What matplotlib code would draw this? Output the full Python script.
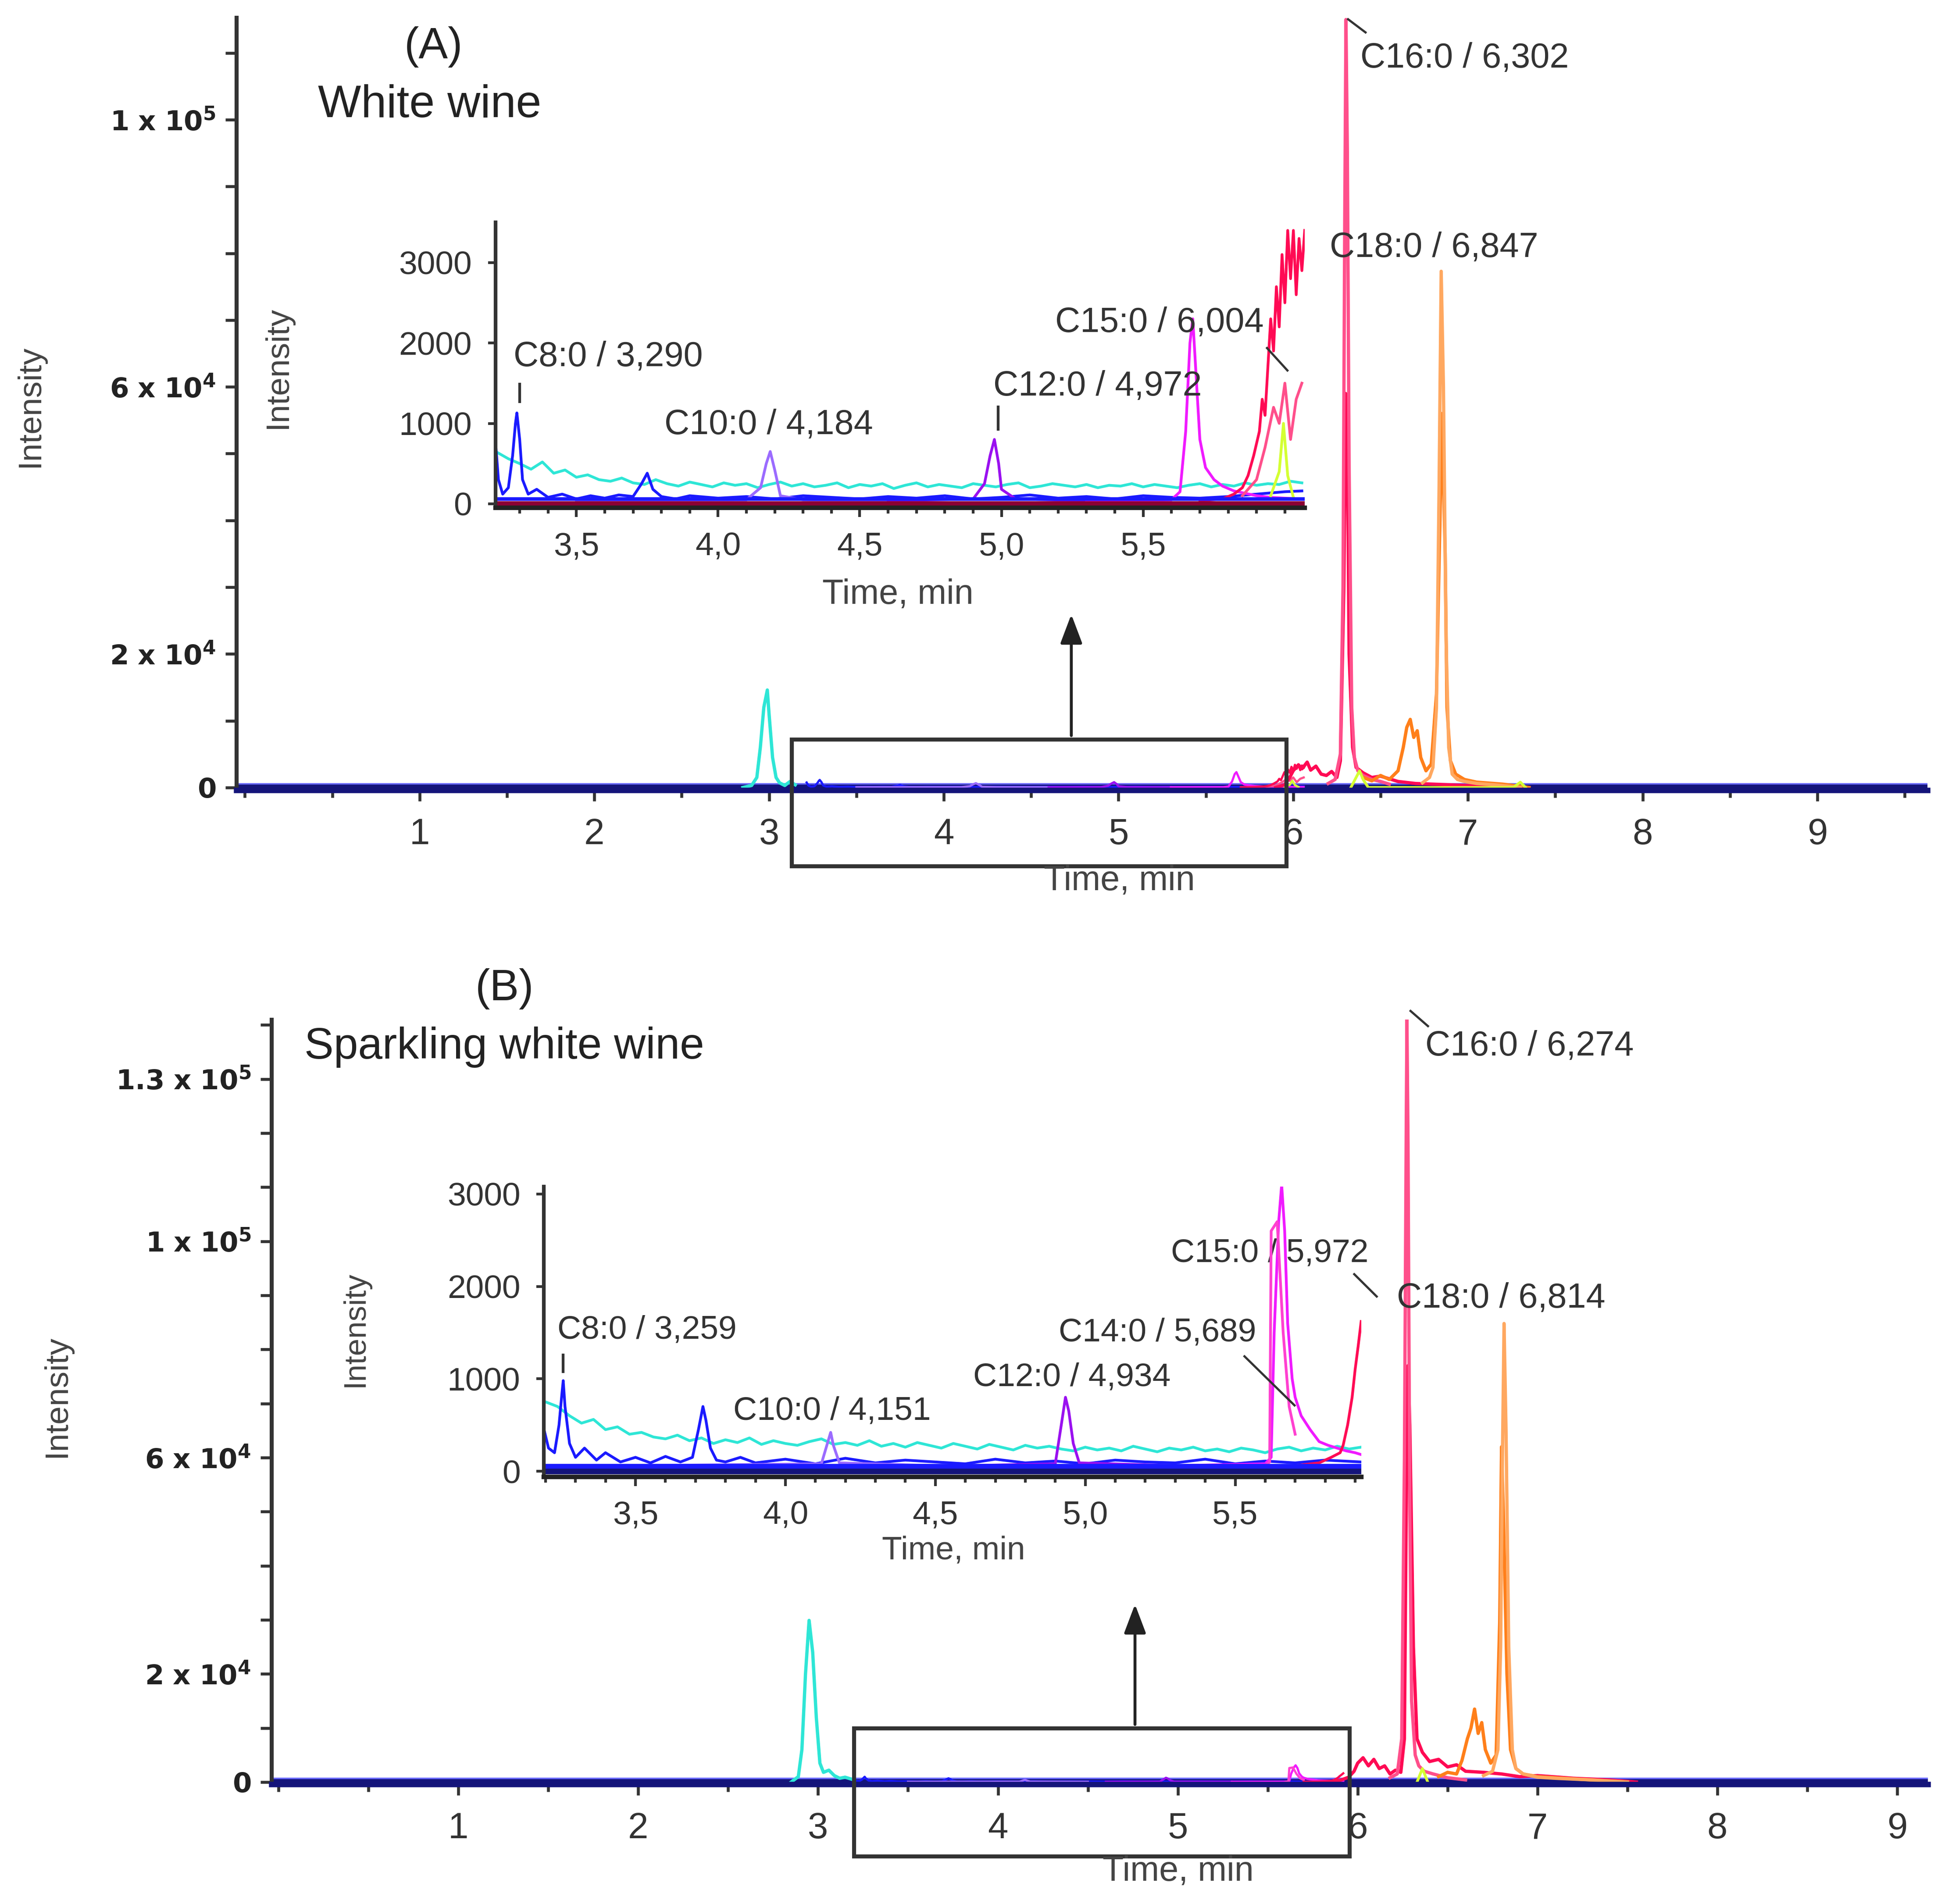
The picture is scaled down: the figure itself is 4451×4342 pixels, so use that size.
import numpy as np
import matplotlib
matplotlib.use('Agg')
import matplotlib.pyplot as plt
from matplotlib.patches import Rectangle
from matplotlib.ticker import MultipleLocator

plt.rcParams['font.family'] = ['Liberation Sans', 'DejaVu Sans']
plt.rcParams['mathtext.fontset'] = 'custom'
plt.rcParams['mathtext.rm'] = 'DejaVu Sans:bold'
plt.rcParams['mathtext.default'] = 'rm'

# colours of the extracted-ion traces
cyan = '#2ee6d6'
blue = '#1a1aff'
navy = '#14147a'
lavender = '#9b6bff'
purple = '#9a10f0'
magenta = '#f01aff'
pinkmag = '#ff40d0'
red = '#ff0a54'
pink = '#ff4f8b'
orange = '#ff7f1a'
lightorange = '#ffa860'
yellow = '#d4ff33'
darkred = '#8b0033'
txt = '#333333'

# ---------------- panel A : white wine, full run ----------------
a_cyan_t = [2.85, 2.90, 2.93, 2.95, 2.97, 2.99, 3.00, 3.02, 3.04, 3.06, 3.09, 3.12, 3.15]
a_cyan_i = [0, 300, 1500, 6000, 12000, 14600, 11000, 4500, 1500, 700, 300, 900, 400]

a_pink_t = [6.20, 6.24, 6.27, 6.285, 6.295, 6.302, 6.31, 6.32, 6.335, 6.35, 6.37, 6.40, 6.45, 6.50, 6.55]
a_pink_i = [600, 1200, 5000, 30000, 85000, 115000, 95000, 48000, 12000, 4500, 2500, 1800, 1200, 900, 500]

a_red_t = [5.90, 5.95, 5.98, 6.00, 6.03, 6.05, 6.08, 6.10, 6.13, 6.16, 6.19, 6.22, 6.25, 6.27,
           6.29, 6.30, 6.31, 6.32, 6.34, 6.36, 6.40, 6.45, 6.50, 6.60, 6.70, 6.80, 7.00, 7.20]
a_red_i = [0, 400, 1500, 2500, 3400, 2800, 3800, 2600, 3200, 2000, 1800, 2400, 1500, 4000,
           30000, 59000, 52000, 20000, 6000, 3000, 2200, 1500, 1700, 900, 600, 500, 300, 0]

a_orange_t = [6.74, 6.78, 6.80, 6.82, 6.835, 6.847, 6.86, 6.875, 6.89, 6.91, 6.94, 6.98, 7.05, 7.15, 7.30]
a_orange_i = [700, 1500, 3000, 12000, 45000, 77300, 60000, 22000, 6000, 2000, 1200, 900, 600, 400, 0]

a_dkorange_t = [6.40, 6.45, 6.50, 6.55, 6.60, 6.63, 6.65, 6.67, 6.69, 6.71, 6.73, 6.76, 6.79, 6.82,
                6.84, 6.85, 6.87, 6.88, 6.90, 6.93, 6.98, 7.05, 7.20, 7.35]
a_dkorange_i = [1500, 1000, 1800, 1200, 2500, 6000, 9000, 10200, 7500, 8500, 4500, 2500, 3500, 14000,
                40000, 56000, 35000, 12000, 4000, 2000, 1200, 800, 500, 0]

a_yellow_t = [6.33, 6.36, 6.38, 6.40, 6.43, 7.26, 7.30, 7.33]
a_yellow_i = [0, 1500, 2500, 1200, 0, 0, 800, 0]

# panel A inset (3.2 - 6.07 min)
ia_cyan_i = [640, 560, 500, 430, 520, 380, 420, 330, 360, 300, 280, 320, 260, 240, 300, 250,
             220, 270, 240, 210, 260, 230, 250, 200, 240, 270, 220, 250, 210, 230, 260, 200,
             240, 220, 250, 190, 230, 260, 210, 240, 220, 200, 250, 230, 210, 240, 260, 200,
             220, 250, 230, 210, 240, 200, 230, 220, 250, 210, 240, 220, 200, 230, 250, 210,
             240, 220, 260, 230, 250, 240, 280, 260]
ia_cyan_span = (3.22, 6.06)

ia_blue_t = [3.215, 3.225, 3.24, 3.26, 3.275, 3.285, 3.29, 3.30, 3.31, 3.33, 3.36, 3.40, 3.45, 3.50,
             3.55, 3.60, 3.65, 3.70, 3.73, 3.75, 3.77, 3.80, 3.85, 3.90, 4.0, 4.1, 4.2, 4.3, 4.4,
             4.5, 4.6, 4.7, 4.8, 4.9, 5.0, 5.1, 5.2, 5.3, 5.4, 5.5, 5.6, 5.7, 5.8, 5.9, 6.0, 6.06]
ia_blue_i = [750, 300, 120, 200, 600, 1000, 1130, 800, 300, 120, 180, 80, 120, 60,
             100, 70, 110, 90, 250, 380, 180, 90, 60, 100, 70, 90, 60, 100, 80,
             60, 90, 70, 100, 60, 80, 110, 70, 90, 60, 100, 80, 70, 90, 120, 150, 160]

ia_c10_t = [3.50, 4.10, 4.15, 4.17, 4.184, 4.20, 4.22, 4.30, 4.60]
ia_c10_i = [40, 50, 200, 500, 650, 420, 100, 50, 40]

ia_c12_t = [4.60, 4.90, 4.94, 4.96, 4.975, 4.99, 5.00, 5.05, 5.30]
ia_c12_i = [40, 60, 250, 600, 800, 500, 180, 60, 40]

ia_mag_t = [5.30, 5.60, 5.63, 5.65, 5.665, 5.675, 5.685, 5.70, 5.72, 5.75, 5.78, 5.82, 5.86, 5.90,
            5.95, 6.00, 6.06]
ia_mag_i = [40, 50, 150, 900, 2000, 2300, 1700, 800, 450, 300, 220, 160, 130, 100, 80, 70, 60]

ia_red_t = [5.70, 5.78, 5.82, 5.85, 5.87, 5.89, 5.91, 5.92, 5.93, 5.94, 5.95, 5.96, 5.97, 5.98,
            5.99, 6.00, 6.01, 6.02, 6.03, 6.04, 6.05, 6.06, 6.07]
ia_red_i = [40, 60, 120, 200, 350, 600, 900, 1300, 1100, 1700, 2300, 1900, 2700, 2200,
            3100, 2500, 3400, 2800, 3400, 2600, 3300, 2900, 3400]

ia_pink_t = [5.85, 5.90, 5.93, 5.96, 5.98, 6.00, 6.02, 6.04, 6.06]
ia_pink_i = [100, 300, 700, 1200, 1000, 1500, 800, 1300, 1500]

ia_yellow_t = [5.95, 5.98, 5.995, 6.01, 6.03]
ia_yellow_i = [100, 400, 1000, 350, 80]

# ---------------- panel B : sparkling white wine ----------------
b_cyan_t = [2.85, 2.89, 2.91, 2.93, 2.95, 2.97, 2.99, 3.01, 3.03, 3.06, 3.09, 3.12, 3.15, 3.20]
b_cyan_i = [0, 1000, 6000, 20000, 29900, 24000, 12000, 3500, 1800, 2200, 1200, 700, 900, 400]

b_pink_t = [6.18, 6.22, 6.245, 6.26, 6.27, 6.274, 6.28, 6.29, 6.30, 6.32, 6.34, 6.37, 6.42, 6.50, 6.60]
b_pink_i = [800, 1500, 8000, 60000, 120000, 141000, 118000, 50000, 15000, 5000, 3000, 2000, 1500, 800, 400]

b_red_t = [5.85, 5.90, 5.95, 5.98, 6.00, 6.03, 6.06, 6.09, 6.12, 6.15, 6.18, 6.21, 6.24, 6.26, 6.27,
           6.28, 6.29, 6.31, 6.33, 6.36, 6.40, 6.45, 6.50, 6.55, 6.60, 6.70, 6.80, 6.90, 7.00, 7.20,
           7.40, 7.55]
b_red_i = [0, 300, 900, 2000, 3500, 4500, 3000, 4200, 2500, 3000, 1500, 2200, 1800, 8000, 50000,
           77000, 66000, 25000, 8000, 5500, 3800, 4200, 2800, 3200, 2000, 1800, 1500, 1000, 1200, 700,
           400, 0]

b_orange_t = [6.70, 6.75, 6.78, 6.795, 6.805, 6.814, 6.825, 6.84, 6.86, 6.88, 6.92, 7.00, 7.10, 7.30, 7.50]
b_orange_i = [1200, 2000, 6000, 25000, 60000, 84800, 65000, 25000, 6000, 2500, 1500, 900, 700, 400, 0]

b_dkorange_t = [6.45, 6.50, 6.55, 6.58, 6.61, 6.63, 6.65, 6.67, 6.69, 6.71, 6.74, 6.77, 6.79, 6.80,
                6.81, 6.83, 6.85, 6.88, 6.92, 7.00, 7.10, 7.30, 7.50]
b_dkorange_i = [1000, 1800, 1500, 4000, 8000, 10000, 13500, 9000, 11000, 6000, 3500, 5000, 30000, 62000,
                50000, 20000, 6000, 2500, 1500, 1000, 800, 400, 0]

b_yellow_t = [6.33, 6.36, 6.39]
b_yellow_i = [0, 2500, 0]

# panel B inset (3.2 - 5.92 min)
ib_cyan_i = [750, 700, 600, 520, 560, 450, 480, 400, 420, 370, 350, 390, 330, 360, 300, 340,
             310, 360, 290, 330, 300, 280, 320, 350, 290, 310, 280, 330, 270, 300, 260, 310,
             280, 250, 300, 270, 240, 290, 260, 230, 280, 250, 270, 240, 220, 260, 230, 250,
             220, 270, 240, 210, 250, 230, 260, 220, 240, 210, 250, 230, 200, 240, 260, 220,
             250, 230, 270, 240, 260]
ib_cyan_span = (3.20, 5.92)

ib_blue_t = [3.195, 3.21, 3.23, 3.245, 3.255, 3.259, 3.265, 3.28, 3.30, 3.33, 3.37, 3.40, 3.45, 3.50,
             3.55, 3.60, 3.65, 3.69, 3.71, 3.725, 3.735, 3.75, 3.77, 3.80, 3.85, 3.9, 4.0, 4.1, 4.2,
             4.3, 4.4, 4.5, 4.6, 4.7, 4.8, 4.9, 5.0, 5.1, 5.2, 5.3, 5.4, 5.5, 5.6, 5.7, 5.8, 5.92]
ib_blue_i = [450, 250, 200, 500, 850, 980, 700, 300, 150, 250, 120, 200, 100, 150,
             90, 160, 100, 150, 450, 700, 550, 250, 120, 100, 150, 90, 130, 80, 140,
             90, 120, 100, 80, 130, 90, 110, 80, 120, 100, 90, 130, 80, 110, 90, 120, 100]

ib_c10_t = [3.50, 4.12, 4.14, 4.151, 4.16, 4.18, 4.50]
ib_c10_i = [60, 80, 300, 420, 280, 90, 60]

ib_c12_t = [4.60, 4.90, 4.92, 4.934, 4.945, 4.96, 4.98, 5.30]
ib_c12_i = [60, 80, 500, 800, 650, 300, 90, 60]

ib_mag_t = [5.30, 5.60, 5.62, 5.63, 5.645, 5.655, 5.665, 5.675, 5.69, 5.70, 5.72, 5.75, 5.78, 5.81,
            5.84, 5.87, 5.90, 5.92]
ib_mag_i = [60, 80, 150, 1500, 2700, 3100, 2600, 1600, 1000, 800, 600, 450, 320, 280, 250, 220, 200, 180]

ib_mag2_t = [5.60, 5.615, 5.62, 5.64, 5.66, 5.68, 5.70]
ib_mag2_i = [60, 100, 2600, 2700, 1500, 700, 400]

ib_red_t = [5.70, 5.78, 5.82, 5.85, 5.86, 5.875, 5.89, 5.90, 5.91, 5.92]
ib_red_i = [60, 90, 150, 200, 280, 500, 800, 1100, 1350, 1620]

# axis ticks
main_xticks = [1, 2, 3, 4, 5, 6, 7, 8, 9]
a_ytick_vals = [0, 20000, 60000, 100000]
a_ytick_labels = ['$0$', r'$2\ x\ 10^{4}$', r'$6\ x\ 10^{4}$', r'$1\ x\ 10^{5}$']
b_ytick_vals = [0, 20000, 60000, 100000, 130000]
b_ytick_labels = ['$0$', r'$2\ x\ 10^{4}$', r'$6\ x\ 10^{4}$', r'$1\ x\ 10^{5}$',
                  r'$1.3\ x\ 10^{5}$']
inset_xticks = [3.5, 4.0, 4.5, 5.0, 5.5]
inset_xlabels = ['3,5', '4,0', '4,5', '5,0', '5,5']
inset_yticks = [0, 1000, 2000, 3000]


def style_main(ax, xlim, ylim, yvals, ylabels):
    ax.set_xlim(*xlim)
    ax.set_ylim(*ylim)
    ax.set_facecolor('none')
    ax.spines['top'].set_visible(False)
    ax.spines['right'].set_visible(False)
    ax.spines['left'].set_color(txt)
    ax.spines['left'].set_linewidth(2.2)
    ax.spines['bottom'].set_color(navy)
    ax.spines['bottom'].set_linewidth(3)
    ax.set_xticks(main_xticks, [str(t) for t in main_xticks])
    ax.xaxis.set_minor_locator(MultipleLocator(0.5))
    ax.set_yticks(yvals, ylabels, fontsize=15, color='#222222')
    ax.yaxis.set_minor_locator(MultipleLocator(10000))
    ax.tick_params(axis='x', which='major', direction='out', length=6, width=1.6,
                   color=txt, labelcolor=txt, labelsize=20, pad=9)
    ax.tick_params(axis='x', which='minor', direction='out', length=4, width=1.6, color=txt)
    ax.tick_params(axis='y', which='both', direction='out', length=6, width=1.6,
                   color=txt, pad=5)


def style_inset(ax, xlim, ylim):
    ax.set_xlim(*xlim)
    ax.set_ylim(*ylim)
    ax.set_facecolor('none')
    ax.spines['top'].set_visible(False)
    ax.spines['right'].set_visible(False)
    ax.spines['left'].set_color(txt)
    ax.spines['left'].set_linewidth(2)
    ax.spines['bottom'].set_color('#222222')
    ax.spines['bottom'].set_linewidth(2.5)
    ax.set_xticks(inset_xticks, inset_xlabels)
    ax.xaxis.set_minor_locator(MultipleLocator(0.1))
    ax.set_yticks(inset_yticks, [str(v) for v in inset_yticks])
    ax.tick_params(axis='x', which='major', direction='out', length=5, width=1.5,
                   color=txt, labelcolor=txt, labelsize=18, pad=8)
    ax.tick_params(axis='x', which='minor', direction='out', length=3, width=1.5, color=txt)
    ax.tick_params(axis='y', which='major', direction='out', length=4, width=1.5,
                   color=txt, labelcolor=txt, labelsize=18, pad=9)


def plot_inset_traces(ax, cyan_vals, cyan_span, traces, base_color, xr, lw):
    ax.plot(np.linspace(cyan_span[0], cyan_span[1], len(cyan_vals)), cyan_vals,
            color=cyan, lw=lw)
    for t, i, c in traces:
        ax.plot(t, i, color=c, lw=lw)
    ax.plot(xr, [0, 0], color=base_color, lw=lw * 2)


fig = plt.figure(figsize=(4451 / 300, 4342 / 300), dpi=300)

# ================= panel A =================
axA = fig.add_axes([0.1210, 0.5850, 0.8664, 0.4058])
style_main(axA, (-0.05, 9.63), (-400, 115300), a_ytick_vals, a_ytick_labels)
axA.plot([-0.05, 9.63], [350, 350], color='#6a6aff', lw=2.5)
axA.plot([-0.05, 9.63], [0, 0], color=navy, lw=3.5)
ia_traces = [(ia_blue_t, ia_blue_i, blue), (ia_c10_t, ia_c10_i, lavender),
             (ia_c12_t, ia_c12_i, purple), (ia_mag_t, ia_mag_i, magenta),
             (ia_pink_t, ia_pink_i, pink), (ia_red_t, ia_red_i, red),
             (ia_yellow_t, ia_yellow_i, yellow)]
for t, i, c in ia_traces:
    axA.plot(t, i, color=c, lw=1.2)
axA.plot(a_cyan_t, a_cyan_i, color=cyan, lw=1.8)
axA.plot(a_red_t, a_red_i, color=red, lw=1.8)
axA.plot(a_pink_t, a_pink_i, color=pink, lw=1.8)
axA.plot(a_dkorange_t, a_dkorange_i, color=orange, lw=1.8)
axA.plot(a_orange_t, a_orange_i, color=lightorange, lw=1.8)
axA.plot(a_yellow_t, a_yellow_i, color=yellow, lw=1.5)

axA.add_patch(Rectangle((3.129, -11750), 5.960 - 3.129, 7222 + 11750, fill=False,
                        ec='#333333', lw=2.2, clip_on=False, zorder=5))
axA.annotate('', xy=(4.730, 26460), xytext=(4.730, 7222),
             arrowprops=dict(arrowstyle='-|>,head_length=0.45,head_width=0.17',
                             color='#222222', lw=1.6, mutation_scale=30), annotation_clip=False)
axA.text(6.384, 109130, 'C16:0 / 6,302', fontsize=19, color=txt, va='center', ha='left')
axA.plot([6.314, 6.414], [115040, 113070], color=txt, lw=1.2, clip_on=False)
axA.text(6.209, 80760, 'C18:0 / 6,847', fontsize=19, color=txt, va='center', ha='left')

insA = fig.add_axes([0.2539, 0.7333, 0.4145, 0.1499])
style_inset(insA, (3.215, 6.07), (-50, 3500))
plot_inset_traces(insA, ia_cyan_i, ia_cyan_span, ia_traces, darkred, [3.215, 6.07], 1.5)
insA.plot([3.215, 6.07], [60, 60], color=blue, lw=2)
insA.plot([3.215, 6.07], [0, 0], color=darkred, lw=3)
insA.text(3.279, 1822, 'C8:0 / 3,290', fontsize=19, color=txt, va='center')
insA.plot([3.300, 3.300], [1489, 1271], color=txt, lw=1.5)
insA.text(3.811, 977, 'C10:0 / 4,184', fontsize=19, color=txt, va='center')
insA.text(4.971, 1457, 'C12:0 / 4,972', fontsize=19, color=txt, va='center')
insA.plot([4.988, 4.988], [1206, 927], color=txt, lw=1.5)
insA.text(5.190, 2248, 'C15:0 / 6,004', fontsize=19, color=txt, va='center')
insA.plot([5.937, 6.009], [1937, 1658], color=txt, lw=1.2)

fig.text(0.2220, 0.9754, '(A)', fontsize=24, color='#222222', ha='center', va='center')
fig.text(0.2200, 0.9445, 'White wine', fontsize=25, color='#222222', ha='center', va='center')
fig.text(0.0155, 0.7867, 'Intensity', fontsize=18, color='#444444', rotation=90,
         ha='center', va='center')
fig.text(0.1424, 0.8068, 'Intensity', fontsize=18, color='#444444', rotation=90,
         ha='center', va='center')
fig.text(0.4599, 0.6877, 'Time, min', fontsize=19, color='#444444', ha='center', va='center')
fig.text(0.5734, 0.5373, 'Time, min', fontsize=19, color='#444444', ha='center', va='center')

# ================= panel B =================
axB = fig.add_axes([0.1390, 0.0629, 0.8486, 0.4016])
style_main(axB, (-0.04, 9.17), (-400, 141000), b_ytick_vals, b_ytick_labels)
axB.plot([-0.04, 9.17], [400, 400], color='#6a6aff', lw=2.5)
axB.plot([-0.04, 9.17], [0, 0], color=navy, lw=3.5)
ib_traces = [(ib_blue_t, ib_blue_i, blue), (ib_c10_t, ib_c10_i, lavender),
             (ib_c12_t, ib_c12_i, purple), (ib_mag_t, ib_mag_i, magenta),
             (ib_mag2_t, ib_mag2_i, pinkmag), (ib_red_t, ib_red_i, red)]
for t, i, c in ib_traces:
    axB.plot(t, i, color=c, lw=1.2)
axB.plot(b_cyan_t, b_cyan_i, color=cyan, lw=1.8)
axB.plot(b_red_t, b_red_i, color=red, lw=1.8)
axB.plot(b_pink_t, b_pink_i, color=pink, lw=1.8)
axB.plot(b_dkorange_t, b_dkorange_i, color=orange, lw=1.8)
axB.plot(b_orange_t, b_orange_i, color=lightorange, lw=1.8)
axB.plot(b_yellow_t, b_yellow_i, color=yellow, lw=1.5)

axB.add_patch(Rectangle((3.199, -13700), 5.955 - 3.199, 9970 + 13700, fill=False,
                        ec='#333333', lw=2.2, clip_on=False, zorder=5))
axB.annotate('', xy=(4.762, 33550), xytext=(4.762, 9970),
             arrowprops=dict(arrowstyle='-|>,head_length=0.45,head_width=0.17',
                             color='#222222', lw=1.6, mutation_scale=30), annotation_clip=False)
axB.text(6.377, 136060, 'C16:0 / 6,274', fontsize=19, color=txt, va='center', ha='left')
axB.plot([6.294, 6.391], [142600, 139790], color=txt, lw=1.2, clip_on=False)
axB.text(6.218, 89380, 'C18:0 / 6,814', fontsize=19, color=txt, va='center', ha='left')
axB.text(4.962, 97810, 'C15:0 / 5,972', fontsize=18, color=txt, va='center', ha='left')
axB.plot([5.981, 6.106], [93920, 89790], color=txt, lw=1.2)

insB = fig.add_axes([0.2787, 0.2244, 0.4186, 0.1524])
style_inset(insB, (3.195, 5.92), (-60, 3080))
plot_inset_traces(insB, ib_cyan_i, ib_cyan_span, ib_traces, navy, [3.195, 5.92], 1.5)
insB.plot([3.195, 5.92], [50, 50], color=blue, lw=3)
insB.plot([3.195, 5.92], [0, 0], color=navy, lw=3)
insB.text(3.239, 1528, 'C8:0 / 3,259', fontsize=18, color=txt, va='center')
insB.plot([3.259, 3.259], [1258, 1077], color=txt, lw=1.5)
insB.text(3.826, 650, 'C10:0 / 4,151', fontsize=18, color=txt, va='center')
insB.text(4.626, 1016, 'C12:0 / 4,934', fontsize=18, color=txt, va='center')
insB.text(4.911, 1500, 'C14:0 / 5,689', fontsize=18, color=txt, va='center')
insB.plot([5.531, 5.698], [1243, 712], color=txt, lw=1.2)

fig.text(0.2584, 0.4807, '(B)', fontsize=24, color='#222222', ha='center', va='center')
fig.text(0.2584, 0.4500, 'Sparkling white wine', fontsize=24, color='#222222',
         ha='center', va='center')
fig.text(0.0292, 0.2665, 'Intensity', fontsize=18, color='#444444', rotation=90,
         ha='center', va='center')
fig.text(0.1820, 0.3019, 'Intensity', fontsize=17, color='#444444', rotation=90,
         ha='center', va='center')
fig.text(0.4884, 0.1856, 'Time, min', fontsize=18, color='#444444', ha='center', va='center')
fig.text(0.6035, 0.0170, 'Time, min', fontsize=19, color='#444444', ha='center', va='center')

fig.savefig('out.png', dpi=300, facecolor='white')
